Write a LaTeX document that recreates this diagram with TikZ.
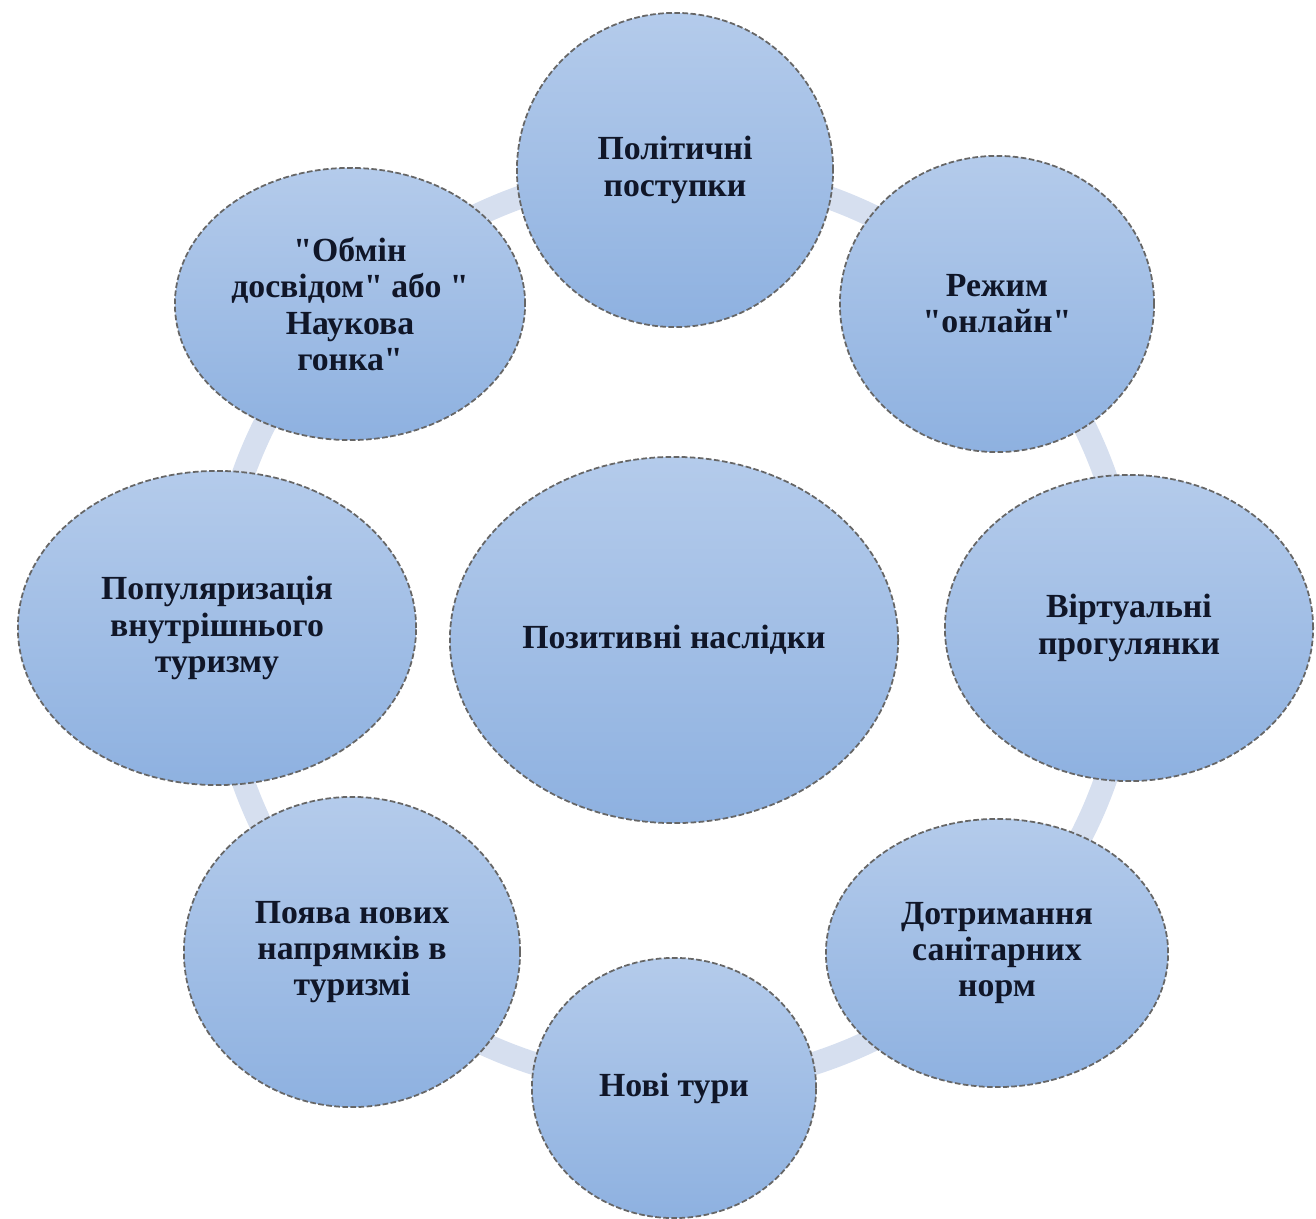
\documentclass[tikz,border=0pt]{standalone}
\usepackage{fontspec}
\setmainfont{Liberation Serif}
\usetikzlibrary{shapes}
\definecolor{ringblue}{RGB}{214,223,239}
\definecolor{bubbletop}{RGB}{180,203,235}
\definecolor{bubblebot}{RGB}{142,177,224}
\definecolor{textnavy}{RGB}{16,22,40}
\newcommand{\qt}{\textquotedbl}

\begin{document}
\begin{tikzpicture}[x = .01cm, y = -.01cm,
  bubble/.style = {ellipse, draw = black!60, dash pattern = on 1.6pt off .7pt, line width = .5pt, top color = bubbletop, bottom color = bubblebot, inner sep = 0pt, align = center, text = textnavy, font = \bfseries\fontsize{9.6}{10.3}\selectfont},
  ring/.style = {draw = ringblue, line width = .23cm}]
\useasboundingbox (0,0) rectangle (1316,1219);
\coordinate (hub) at (674,628);
\draw[ring] (hub) circle[radius = 4.57cm];
\node[bubble, minimum width = 4.48cm, minimum height = 3.66cm] (pos) at (674,640) {Позитивні наслідки};
\node[bubble, minimum width = 3.16cm, minimum height = 3.14cm] (pol) at (675,170) {Політичні\\поступки};
\node[bubble, minimum width = 3.14cm, minimum height = 2.96cm] (onl) at (997,304) {Режим\\\qt онлайн\qt};
\node[bubble, minimum width = 3.68cm, minimum height = 3.06cm] (virt) at (1129,628) {Віртуальні\\прогулянки};
\node[bubble, minimum width = 3.42cm, minimum height = 2.68cm] (san) at (997,953) {Дотримання\\санітарних\\норм};
\node[bubble, minimum width = 2.84cm, minimum height = 2.60cm] (tur) at (674,1088) {Нові тури};
\node[bubble, minimum width = 3.36cm, minimum height = 3.10cm] (napr) at (352,952) {Поява нових\\напрямків в\\туризмі};
\node[bubble, minimum width = 3.98cm, minimum height = 3.14cm] (vnutr) at (217,628) {Популяризація\\внутрішнього\\туризму};
\node[bubble, minimum width = 3.50cm, minimum height = 2.72cm] (obmin) at (350,304) {\qt Обмін\\досвідом\qt{} або \qt\\Наукова\\гонка\qt};
\end{tikzpicture}
\end{document}
